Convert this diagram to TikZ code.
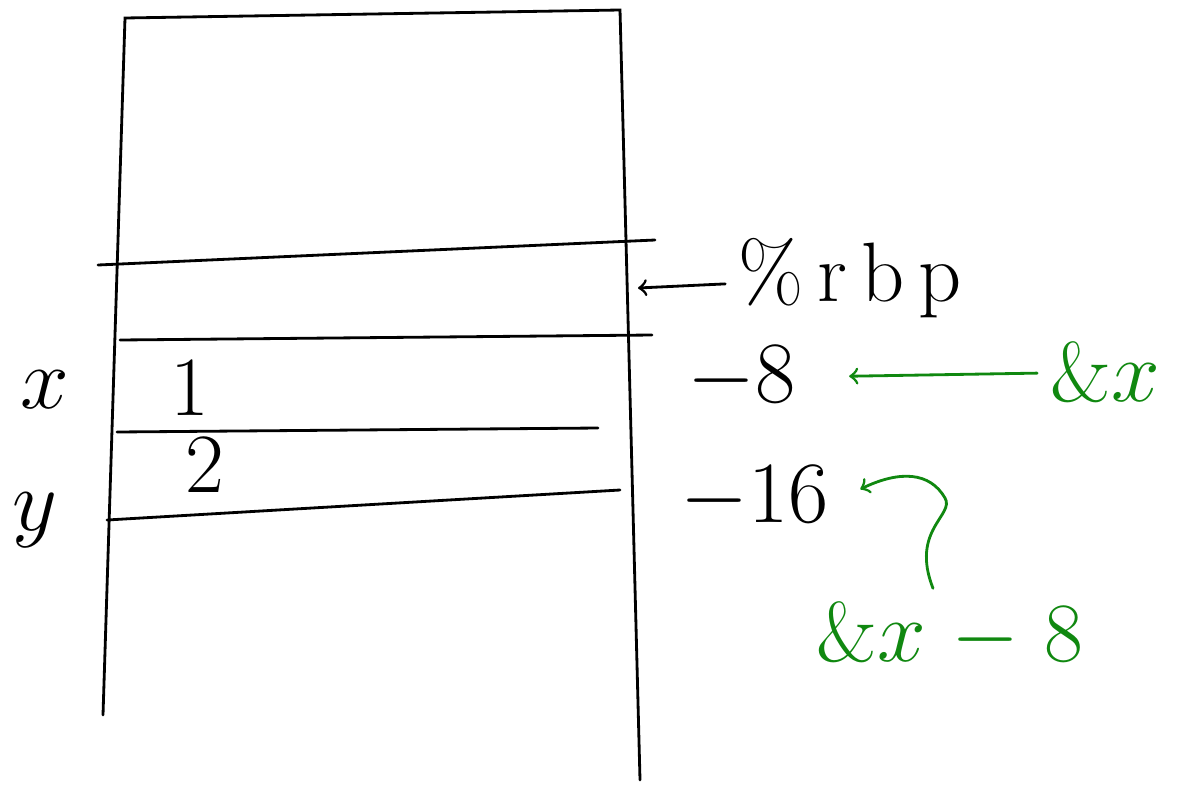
\documentclass[tikz,border=0pt]{standalone}
\usetikzlibrary{arrows,positioning}
\definecolor{pengreen}{RGB}{16,136,16}

\begin{document}
\begin{tikzpicture}[>=to,thick,line cap=round,font=\fontsize{24}{28}\selectfont]
        \useasboundingbox (0,0) rectangle (11.9,-7.85);
        % the frame
        \coordinate (tl) at (1.25,-0.18);
        \coordinate (tr) at (6.20,-0.10);
        \coordinate (bl) at (1.03,-7.15);
        \coordinate (br) at (6.40,-7.80);
        \draw (bl) -- (tl) -- (tr) -- (br);
        % slots
        \draw (0.98,-2.65) -- (6.55,-2.40);
        \draw (1.20,-3.40) -- (6.52,-3.35);
        \draw (1.17,-4.32) -- (5.98,-4.28);
        \draw (1.07,-5.20) -- (6.20,-4.90);
        \node (v1) at (1.90,-3.88) {1};
        \node (v2) at (2.05,-4.65) {2};
        \node (x) at (0.45,-3.90) {$x$};
        \node (y) at (0.35,-5.20) {$y$};
        % offsets from rbp
        \node (rbp) at (8.50,-2.78) {\%\,r\,b\,p};
        \coordinate (rbpedge) at (6.38,-2.88);
        \node (off8) at (7.42,-3.78) {$-8$};
        \node (off16) [below=0.3cm of off8, xshift=0.13cm] {$-16$};
        \draw [->] (rbp) -- (rbpedge);
        % addresses
        \node[pengreen] (addrx) at (11.05,-3.72) {\&$x$};
        \node[pengreen] (addry) at (9.50,-6.35) {\&$x$ $-$ 8};
        \draw [->,pengreen,shorten >=0.4cm] (addrx) -- (off8);
        \draw [->,pengreen,shorten >=0.2cm] (addry.110) .. controls (9.10,-5.30) and (9.55,-5.15) .. (9.45,-4.98)
                .. controls (9.30,-4.72) and (9.00,-4.70) .. (off16.east);
    \end{tikzpicture}
\end{document}
